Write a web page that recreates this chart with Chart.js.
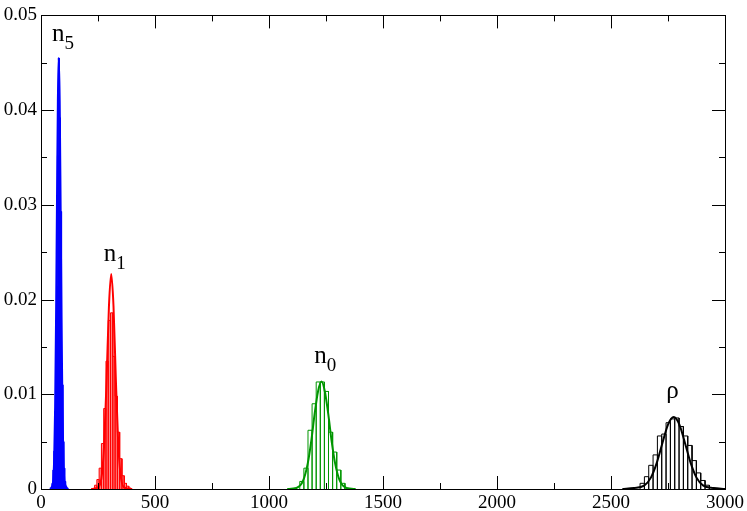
<!DOCTYPE html>
<html>
<head>
<meta charset="utf-8">
<script src="https://cdn.jsdelivr.net/npm/chart.js@4.4.0/dist/chart.umd.min.js"></script>
<style>
  html, body { margin: 0; padding: 0; background: #fff; }
  #wrap { width: 747px; height: 511px; }
</style>
</head>
<body>
<div id="wrap"><canvas id="mycanvas" width="747" height="511"></canvas></div>
<script>
// histogram bin centres and heights
var n5Bins = [50, 54, 58, 62, 66, 70, 74, 78, 82, 86, 90, 94, 98, 102, 106, 110];
var n5Hist = [0.0006, 0.002, 0.004, 0.0082, 0.0165, 0.0214, 0.0352, 0.0455, 0.0392, 0.0293, 0.019, 0.011, 0.005, 0.0022, 0.0008, 0.0003];

var n1Bins = [240, 250, 260, 270, 280, 290, 300, 310, 320, 330, 340, 350, 360, 370, 380, 390];
var n1Hist = [0.0004, 0.001, 0.0022, 0.0048, 0.0085, 0.0135, 0.0178, 0.0186, 0.014, 0.0098, 0.006, 0.0032, 0.0014, 0.0006, 0.0003, 0.0001];

var n0Bins = [1144, 1162, 1180, 1198, 1216, 1234, 1252, 1270, 1288, 1306, 1324];
var n0Hist = [0.0008, 0.0022, 0.0062, 0.009, 0.0113, 0.0113, 0.0103, 0.006, 0.0039, 0.002, 0.0006];

var rhoBins = [2637, 2656, 2675, 2694, 2713, 2732, 2751, 2770, 2789, 2808, 2827, 2846, 2865, 2884, 2903, 2922];
var rhoHist = [0.0006, 0.0013, 0.0025, 0.0036, 0.0056, 0.0058, 0.007, 0.0074, 0.0075, 0.0066, 0.0056, 0.0046, 0.003, 0.0017, 0.0009, 0.0004];

// fitted curves
var n5CurveX = [40, 52, 58, 62, 66, 70, 74, 78, 82, 86, 90, 94, 98, 104, 120];
var n5CurveY = [0, 0.0006, 0.0034, 0.0087, 0.018, 0.0301, 0.041, 0.0455, 0.041, 0.0301, 0.018, 0.0087, 0.0034, 0.0006, 0];

var n1CurveX = [220, 253, 268, 278, 288, 298, 308, 318, 328, 338, 348, 363, 400];
var n1CurveY = [0, 0.0002, 0.0017, 0.0052, 0.0118, 0.0193, 0.0227, 0.0193, 0.0118, 0.0052, 0.0017, 0.0002, 0];

var n0CurveX = [1080, 1120, 1150, 1170, 1185, 1200, 1215, 1230, 1245, 1260, 1275, 1290, 1310, 1340, 1380];
var n0CurveY = [0, 0.0001, 0.0009, 0.0027, 0.005, 0.0079, 0.0103, 0.01135, 0.0103, 0.0079, 0.005, 0.0027, 0.0009, 0.0001, 0];

var rhoCurveX = [2550, 2600, 2645, 2675, 2700, 2725, 2750, 2775, 2800, 2825, 2850, 2875, 2905, 2950, 3000];
var rhoCurveY = [0, 0.0001, 0.00035, 0.0012, 0.0027, 0.0048, 0.0068, 0.0076, 0.0068, 0.0048, 0.0027, 0.0012, 0.00035, 0.0001, 0];

var xTicks = [0, 500, 1000, 1500, 2000, 2500, 3000];
var yTicks = [0, 0.01, 0.02, 0.03, 0.04, 0.05];

// peak labels: main letter, subscript, anchor in data units
var peakLabels = [
	{ text: 'n', sub: '5', x: 48, y: 0.0473 },
	{ text: 'n', sub: '1', x: 275, y: 0.0241 },
	{ text: 'n', sub: '0', x: 1198, y: 0.0133 },
	{ text: 'ρ', sub: '', x: 2742, y: 0.0096 }
];

function pts(xs, ys) {
	var out = [];
	for (var i in xs) {
		out.push({ x: xs[i], y: ys[i] });
	}
	return out;
}

// outline of a histogram: every bin is a closed box from zero
function boxes(bins, hist) {
	var w = bins[1] - bins[0];
	var out = [];
	for (var i in bins) {
		var l = bins[i] - w / 2, r = bins[i] + w / 2;
		out.push({ x: l, y: 0 }, { x: l, y: hist[i] }, { x: r, y: hist[i] }, { x: r, y: 0 });
	}
	return out;
}

var serif = '"Liberation Serif", "DejaVu Serif", serif';

function histSet(bins, hist, border, fill) {
	return {
		type: 'line',
		data: boxes(bins, hist),
		borderColor: border,
		backgroundColor: fill,
		borderWidth: 1,
		pointRadius: 0,
		tension: 0,
		fill: fill ? 'origin' : false,
		order: 2
	};
}

function curveSet(xs, ys, color) {
	return {
		type: 'line',
		data: pts(xs, ys),
		borderColor: color,
		backgroundColor: color,
		borderWidth: 2,
		pointRadius: 0,
		cubicInterpolationMode: 'monotone',
		fill: false,
		order: 1
	};
}

var frameTicks = {
	id: 'frameTicks',
	afterDatasetsDraw: function(chart) {
		var ctx = chart.ctx;
		var a = chart.chartArea;
		var xs = chart.scales.x;
		var ys = chart.scales.y;
		ctx.save();
		ctx.strokeStyle = '#000';
		ctx.lineWidth = 1;
		ctx.beginPath();
		var v, p, len;
		for (v = 0; v <= 3000; v += 250) {
			p = Math.round(xs.getPixelForValue(v)) + 0.5;
			len = (v % 500 === 0) ? 13 : 6;
			ctx.moveTo(p, a.bottom); ctx.lineTo(p, a.bottom - len);
			ctx.moveTo(p, a.top); ctx.lineTo(p, a.top + len);
		}
		for (var k = 0; k <= 10; k++) {
			v = k * 0.005;
			p = Math.round(ys.getPixelForValue(v)) + 0.5;
			len = (k % 2 === 0) ? 13 : 6;
			ctx.moveTo(a.left, p); ctx.lineTo(a.left + len, p);
			ctx.moveTo(a.right, p); ctx.lineTo(a.right - len, p);
		}
		ctx.stroke();
		ctx.strokeRect(Math.round(a.left) + 0.5, Math.round(a.top) + 0.5,
			Math.round(a.right - a.left), Math.round(a.bottom - a.top));

		// peak labels
		ctx.fillStyle = '#000';
		ctx.textBaseline = 'alphabetic';
		ctx.textAlign = 'left';
		for (var i in peakLabels) {
			var L = peakLabels[i];
			var px = xs.getPixelForValue(L.x);
			var py = ys.getPixelForValue(L.y);
			ctx.font = '25px ' + serif;
			ctx.fillText(L.text, px, py);
			var w = ctx.measureText(L.text).width;
			if (L.sub) {
				ctx.font = '19px ' + serif;
				ctx.fillText(L.sub, px + w, py + 8);
			}
		}
		ctx.restore();
	}
};

var ctx = document.getElementById('mycanvas');

var chart = new Chart(ctx, {
	type: 'line',
	data: {
		datasets: [
			curveSet(n5CurveX, n5CurveY, '#0000ff'),
			curveSet(n1CurveX, n1CurveY, '#ff0000'),
			curveSet(n0CurveX, n0CurveY, '#009600'),
			curveSet(rhoCurveX, rhoCurveY, '#000000'),
			histSet(n5Bins, n5Hist, '#0000ff', '#0000ff'),
			histSet(n1Bins, n1Hist, '#ff0000', 'rgba(255, 110, 110, 0.8)'),
			histSet(n0Bins, n0Hist, '#009600', null),
			histSet(rhoBins, rhoHist, '#000000', null)
		]
	},
	options: {
		responsive: false,
		animation: false,
		layout: { padding: { top: 9, right: 20, left: 0, bottom: 0 } },
		plugins: { legend: { display: false }, tooltip: { enabled: false } },
		scales: {
			x: {
				type: 'linear',
				min: 0,
				max: 3000,
				offset: false,
				afterBuildTicks: function(scale) {
					scale.ticks = xTicks.map(function(v) { return { value: v }; });
				},
				afterFit: function(scale) { scale.height = 22; },
				grid: { display: false, drawTicks: false },
				border: { display: false },
				ticks: {
					padding: 3,
					color: '#000',
					font: { family: serif, size: 19 },
					maxRotation: 0,
					autoSkip: false,
					callback: function(v) { return String(v); }
				}
			},
			y: {
				type: 'linear',
				min: 0,
				max: 0.05,
				afterBuildTicks: function(scale) {
					scale.ticks = yTicks.map(function(v) { return { value: v }; });
				},
				afterFit: function(scale) { scale.width = 41; },
				grid: { display: false, drawTicks: false },
				border: { display: false },
				ticks: {
					padding: 4,
					color: '#000',
					font: { family: serif, size: 19 },
					callback: function(v) { return String(+v.toFixed(3)); }
				}
			}
		}
	},
	plugins: [frameTicks]
});
</script>
</body>
</html>
